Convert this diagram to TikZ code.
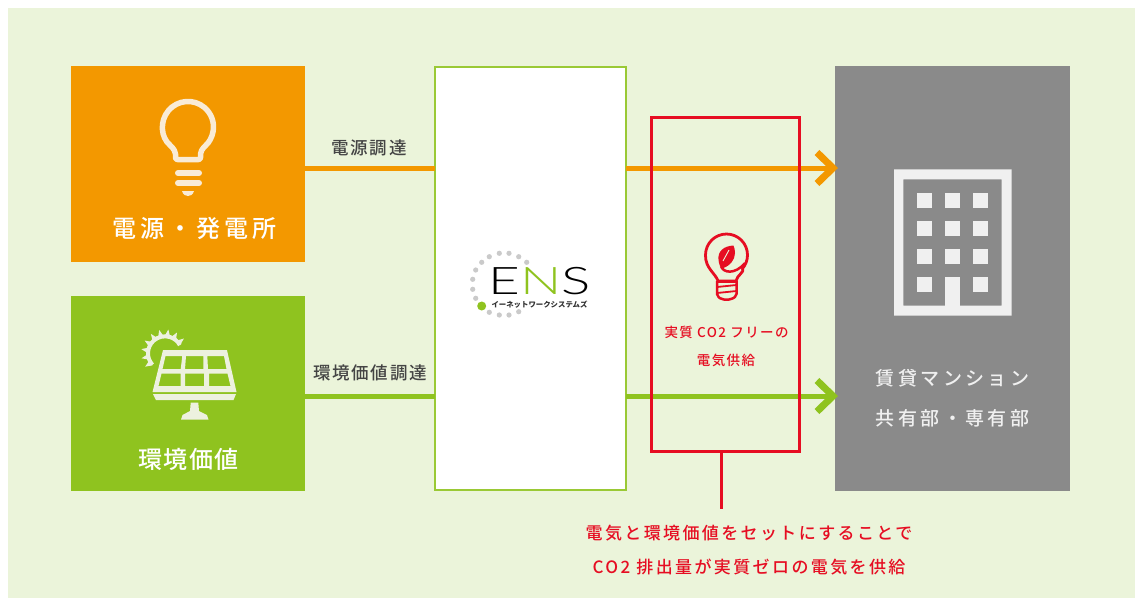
\documentclass[tikz,border=0pt]{standalone}
\usepackage{fontspec}
\usetikzlibrary{arrows.meta,calc}
\newfontfamily\jpA[LetterSpace=16]{Noto Sans CJK JP Medium}
\newfontfamily\jpB[LetterSpace=5]{Noto Sans CJK JP Medium}
\newfontfamily\jpC[LetterSpace=10]{Noto Sans CJK JP Medium}
\newfontfamily\jpD[LetterSpace=18]{Noto Sans CJK JP Medium}
\newfontfamily\jpF[LetterSpace=14]{Noto Sans CJK JP Medium}
\newfontfamily\jpE{Noto Sans CJK JP}
\newfontfamily\logofont{Lato Light}
\definecolor{bg}{HTML}{EBF4DA}
\definecolor{cOrange}{HTML}{F39800}
\definecolor{cGreen}{HTML}{8FC31F}
\definecolor{cRed}{HTML}{E60D22}
\definecolor{cGray}{HTML}{8A8A8A}
\definecolor{cIconO}{HTML}{F9EBD6}
\definecolor{cIconG}{HTML}{EDF1DF}
\definecolor{cIconB}{HTML}{F0F0F0}
\definecolor{cDot}{HTML}{CACACA}
\definecolor{cInk}{HTML}{444444}
\tikzset{
  x=1pt,y=-1pt,
  panel/.style={rectangle,inner sep=0pt,outer sep=0pt,minimum width=#1},
  flow/.style={line width=5pt,draw=#1},
  flowarrow/.style={line width=5pt,draw=#1,shorten >=-3pt,-{Straight Barb[length=16pt,width=31pt,line width=7pt]}},
  txt/.style={inner sep=0pt,outer sep=0pt,anchor=center},
}
\begin{document}
\begin{tikzpicture}
\useasboundingbox (0,0) rectangle (1135,598);
\fill[white] (0,0) rectangle (1135,598);
\fill[bg] (8,8) rectangle (1135,598);

% boxes
\node[panel=234pt,minimum height=196pt,fill=cOrange] (power) at (188,164) {};
\node[panel=234pt,minimum height=195pt,fill=cGreen] (env) at (188,393.5) {};
\node[panel=191pt,minimum height=423pt,fill=white,draw=cGreen!90!white,line width=2.6pt] (ens) at (530.5,278.5) {};
\node[panel=235pt,minimum height=425pt,fill=cGray] (flat) at (952.5,278.5) {};

% connectors
\coordinate (oy) at (0,168);
\coordinate (gy) at (0,396);
\draw[flow=cOrange] (power.east|-oy) -- (ens.west|-oy);
\draw[flow=cGreen] (env.east|-gy) -- (ens.west|-gy);
\draw[flowarrow=cOrange] (ens.east|-oy) -- (flat.west|-oy);
\draw[flowarrow=cGreen] (ens.east|-gy) -- (flat.west|-gy);

% red frame
\node[panel=148pt,minimum height=334pt,draw=cRed,line width=3pt] (free) at (725.5,284) {};
\coordinate (noteTop) at (721,509);
\draw[cRed,line width=3pt] (free.south-|noteTop) -- (noteTop);

% labels
\node[txt,text=white] (t1) at (194.5,228) {\jpA\fontsize{24}{24}\selectfont 電源・発電所};
\node[txt,text=white] (t2) at (188.5,459) {\jpB\fontsize{24}{24}\selectfont 環境価値};
\node[txt,text=cInk] (t3) at (369,148) {\jpC\fontsize{17.5}{17.5}\selectfont 電源調達};
\node[txt,text=cInk] (t4) at (370,373) {\jpC\fontsize{17.5}{17.5}\selectfont 環境価値調達};
\node[txt,text=cRed] (t5) at (726.5,332.5) {\jpC\fontsize{13.5}{13.5}\selectfont 実質 CO2 フリーの};
\node[txt,text=cRed] (t6) at (726,360) {\jpC\fontsize{13.5}{13.5}\selectfont 電気供給};
\node[txt,text=cIconB] (t7) at (952.5,378) {\jpD\fontsize{19}{19}\selectfont 賃貸マンション};
\node[txt,text=cIconB] (t8) at (952.5,418) {\jpD\fontsize{19}{19}\selectfont 共有部・専有部};
\node[txt,text=cRed] (t9) at (749,533) {\jpF\fontsize{17}{17}\selectfont 電気と環境価値をセットにすることで};
\node[txt,text=cRed] (t10) at (749,567) {\jpF\fontsize{17}{17}\selectfont CO2 排出量が実質ゼロの電気を供給};

% bulb icon
\draw[cIconO,line width=5.5pt,line join=round,rounded corners=2pt]
  (175.5,159.5) -- (175.5,152) -- (171.6,146.5) arc[start angle=130,end angle=410,radius=25.5] -- (200.5,152) -- (200.5,159.5) -- cycle;
\draw[cIconO,line width=6pt,line cap=round] (178,173) -- (199,173);
\draw[cIconO,line width=6pt,line cap=round] (178,183) -- (199,183);
\fill[cIconO] (182,191) -- (194,191) .. controls (193,195) and (190,196) .. (188,196) .. controls (186,196) and (183,195) .. (182,191) -- cycle;

% solar icon
\fill[cIconG,even odd rule]
  (163,350.2) -- (227,350.2) -- (236.5,392) -- (152.5,392) -- cycle
  (165.5,356) -- (182.3,356) -- (180.7,369) -- (162.5,369) -- cycle
  (186,356) -- (203.3,356) -- (203.3,369) -- (185,369) -- cycle
  (207.3,356) -- (224,356) -- (226.5,369) -- (208,369) -- cycle
  (161.5,373.5) -- (180.7,373.5) -- (180.7,386) -- (158.5,386) -- cycle
  (185,373.5) -- (204,373.5) -- (204,386) -- (185,386) -- cycle
  (209,373.5) -- (227.5,373.5) -- (230.5,386) -- (209,386) -- cycle;
\fill[cIconG] (153,394) -- (236,394) -- (233.5,400) -- (156,400) -- cycle;
\fill[cIconG] (190.7,402.7) -- (198.3,402.7) -- (199,411) -- (207,415) -- (208.5,419.5) -- (181,419.5) -- (182.5,415) -- (190,411) -- cycle;
\coordinate (sun) at (165,353.3);
\draw[cIconG,line width=4pt] (sun) ++(138:17) arc[start angle=138,end angle=331,radius=17];
\foreach \a in {146,168,190,212,234,256,278,300,322}{
  \fill[cIconG] ($(sun)+(\a-10:17)$) -- ($(sun)+(\a:24)$) -- ($(sun)+(\a+10:17)$) -- cycle;
}

% ENS logo
\foreach \p in {(489.3,256.7),(499.3,253.3),(509,253.3),(518.7,256.7),(526.7,262.3),(481.7,262.3),(475.7,270),(472.7,279.3),(472.7,289.3),(475.7,298.3),(489.3,312.3),(499.3,315),(509,315),(518.7,311.7)}{
  \fill[cDot] \p circle[radius=2.6];
}
\fill[cGreen] (481.7,306) circle[radius=4.5];
\node[txt,xscale=1.44] (logo) at (540,281) {\logofont\fontsize{38}{38}\selectfont E\textcolor{cGreen}{N}S};
\node[txt,text=black!80] (logosub) at (539.5,304.5) {\jpE\bfseries\fontsize{7.4}{7.4}\selectfont イーネットワークシステムズ};

% leaf bulb icon
\draw[cRed,line width=2.8pt,line join=round]
  (718,281) .. controls (716,274) and (705,268) .. (705.5,255) arc[start angle=180,end angle=400,radius=21]
  .. controls (745,272) and (737,275) .. (736,281) -- cycle;
\fill[cRed] (716,281) rectangle (737.5,283);
\draw[cRed,line width=2.5pt,line join=round,rounded corners=2pt] (717,281) -- (717,296) -- (722,299.5) -- (731,299.5) -- (736.5,296) -- (736.5,281);
\draw[cRed,line width=1.8pt] (717,287) -- (736.5,285);
\draw[cRed,line width=1.8pt] (717,293) -- (736.5,291);
\fill[cRed] (733.5,245.5) .. controls (724,246) and (717.5,251) .. (718.5,260) .. controls (719,264) and (720,267) .. (722,268.5) .. controls (730,266) and (735,260) .. (735,253) .. controls (735,250) and (734.5,248) .. (733.5,245.5) -- cycle;
\draw[bg,line width=0.9pt] (723,261) -- (729,250);
\draw[cRed,line width=2.5pt] (721,266) .. controls (723,273) and (735,275) .. (745,263);

% building icon
\fill[cIconB,even odd rule] (894,169.3) rectangle (1011.7,315.7) (903.3,179.3) rectangle (1001.7,305.7);
\foreach \yy in {192.7,221,249,277.3}{
  \foreach \xx in {917.3,945.3,973.3}{
    \fill[cIconB] (\xx,\yy) rectangle +(15,15);
  }
}
\fill[cIconB] (945.3,277.3) rectangle (960,306);
\end{tikzpicture}
\end{document}
